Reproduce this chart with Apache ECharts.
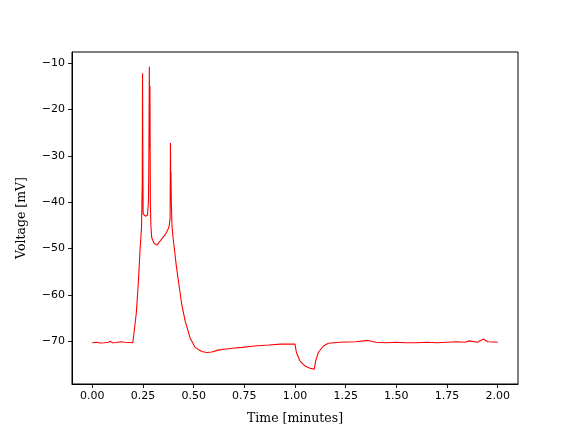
<!DOCTYPE html>
<html>
<head>
<meta charset="utf-8">
<script src="https://cdn.jsdelivr.net/npm/echarts@6/dist/echarts.min.js"></script>
<style>
  html, body { margin: 0; padding: 0; background: #fff; }
  #chart { width: 576px; height: 432px; }
</style>
</head>
<body>
<div id="chart"></div>
<script>
// time in minutes
var timeMin = [
  0.00, 0.02, 0.04, 0.06, 0.08, 0.09, 0.10, 0.12, 0.14, 0.16, 0.18, 0.20, 0.207,
  0.217, 0.227, 0.236, 0.243, 0.2465, 0.248, 0.2495, 0.251, 0.256, 0.262, 0.268, 0.272,
  0.277, 0.279, 0.2815, 0.2835, 0.2845, 0.2865, 0.289, 0.293, 0.296, 0.306, 0.320,
  0.330, 0.345, 0.360, 0.372, 0.379, 0.384, 0.3855, 0.387, 0.388, 0.390, 0.393, 0.398,
  0.406, 0.414, 0.425, 0.441, 0.458, 0.482, 0.507, 0.540, 0.565, 0.590, 0.620, 0.650,
  0.690, 0.740, 0.800, 0.870, 0.930, 0.980, 1.000, 1.007, 1.024, 1.049, 1.074, 1.095,
  1.100, 1.102, 1.115, 1.140, 1.165, 1.220, 1.300, 1.360, 1.400, 1.450, 1.500, 1.550,
  1.600, 1.650, 1.700, 1.750, 1.800, 1.840, 1.860, 1.900, 1.930, 1.950, 2.000
];
// membrane voltage in mV
var voltage = [
  -70.3, -70.2, -70.35, -70.3, -70.2, -70.0, -70.3, -70.25, -70.1, -70.2, -70.25, -70.3, -70.3,
  -64.0, -57.5, -50.0, -45.5, -36.0, -12.2, -31.0, -42.5, -42.8, -43.0, -42.6, -42.8,
  -40.0, -32.0, -10.8, -28.0, -15.0, -40.0, -45.0, -47.5, -48.0, -48.9, -49.2,
  -48.6, -47.8, -47.0, -46.0, -45.2, -43.5, -27.2, -35.0, -33.5, -40.0, -45.0, -47.5,
  -50.4, -53.5, -57.0, -61.9, -65.6, -69.2, -71.3, -72.2, -72.4, -72.3, -71.9, -71.7,
  -71.5, -71.3, -71.0, -70.8, -70.6, -70.6, -70.6, -72.4, -74.2, -75.3, -75.8, -76.0,
  -76.1, -74.2, -72.4, -71.0, -70.4, -70.2, -70.1, -69.8, -70.2, -70.3, -70.2, -70.3,
  -70.3, -70.2, -70.3, -70.2, -70.1, -70.2, -69.9, -70.2, -69.5, -70.1, -70.2
];
var xTicks = [0, 0.25, 0.5, 0.75, 1.0, 1.25, 1.5, 1.75, 2.0];
var yTicks = [-70, -60, -50, -40, -30, -20, -10];

var trace = timeMin.map(function (t, i) { return [t, voltage[i]]; });

function mpl(v, d) {
  var s = v.toFixed(d);
  return s.charAt(0) === '-' ? '\u2212' + s.slice(1) : s;
}

var chart = echarts.init(document.getElementById('chart'), null, { renderer: 'canvas' });
chart.setOption({
  animation: false,
  backgroundColor: '#fff',
  grid: {
    left: 72, right: 58, top: 52, bottom: 48,
    show: true, borderColor: '#000', borderWidth: 1, backgroundColor: 'transparent'
  },
  xAxis: {
    type: 'value',
    min: -0.1, max: 2.1,
    name: 'Time [minutes]',
    nameLocation: 'middle',
    nameGap: 28,
    nameTextStyle: { fontFamily: 'DejaVu Serif', fontSize: 12.5, color: '#000' },
    axisLine: { show: true, onZero: false, lineStyle: { color: '#000', width: 1 } },
    axisTick: { show: true, length: 4, inside: false, customValues: xTicks, lineStyle: { color: '#000', width: 0.9 } },
    axisLabel: {
      customValues: xTicks, margin: 7, fontFamily: 'DejaVu Sans', fontSize: 11, color: '#000',
      formatter: function (v) { return mpl(v, 2); }
    },
    splitLine: { show: false }
  },
  yAxis: {
    type: 'value',
    min: -79.2, max: -7.6,
    name: 'Voltage [mV]',
    nameLocation: 'middle',
    nameGap: 44,
    nameTextStyle: { fontFamily: 'DejaVu Serif', fontSize: 12.5, color: '#000' },
    axisLine: { show: true, onZero: false, lineStyle: { color: '#000', width: 1 } },
    axisTick: { show: true, length: 4, inside: false, customValues: yTicks, lineStyle: { color: '#000', width: 0.9 } },
    axisLabel: {
      customValues: yTicks, margin: 7, fontFamily: 'DejaVu Sans', fontSize: 11, color: '#000',
      formatter: function (v) { return mpl(v, 0); }
    },
    splitLine: { show: false }
  },
  series: [{
    type: 'line',
    data: trace,
    showSymbol: false,
    lineStyle: { color: '#ff0000', width: 1.1 },
    itemStyle: { color: '#ff0000' }
  }]
});
</script>
</body>
</html>
